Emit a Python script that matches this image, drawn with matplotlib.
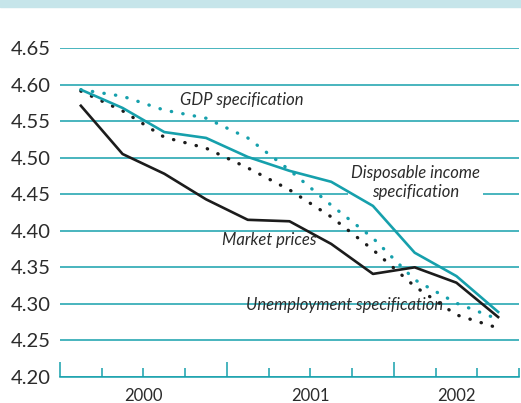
import numpy as np
import matplotlib
matplotlib.use("Agg")
import matplotlib.pyplot as plt
from matplotlib.patches import Rectangle

plt.rcParams['font.family'] = ['Lato', 'DejaVu Sans']

# quarterly estimates, 2000 Q1 .. 2002 Q3
quarters = ['2000Q1', '2000Q2', '2000Q3', '2000Q4', '2001Q1', '2001Q2',
            '2001Q3', '2001Q4', '2002Q1', '2002Q2', '2002Q3']
market_prices = [4.571, 4.505, 4.478, 4.443, 4.415, 4.413, 4.382, 4.341, 4.350, 4.329, 4.282]
disposable_income = [4.593, 4.568, 4.535, 4.527, 4.501, 4.482, 4.467, 4.434, 4.370, 4.338, 4.289]
gdp_spec = [4.593, 4.584, 4.565, 4.554, 4.527, 4.483, 4.435, 4.390, 4.333, 4.301, 4.279]
unemployment_spec = [4.591, 4.564, 4.528, 4.513, 4.486, 4.456, 4.419, 4.374, 4.324, 4.285, 4.267]
years = ['2000', '2001', '2002']

teal = '#16a0ac'
black = '#1c1c1c'
text_col = '#2b2b2b'

fig = plt.figure(figsize=(5.21, 4.03), dpi=100)
# light blue band on top
fig.patches.append(Rectangle((0, 1 - 7 / 403), 1, 7 / 403, transform=fig.transFigure,
                             color='#c6e5ea', zorder=0))
ax = fig.add_axes([60 / 521, 26 / 403, 459 / 521, 329 / 403])

x = np.arange(len(quarters)) + 0.5
dot = (0, (0.1, 3.4))
ax.plot(x, gdp_spec, color=teal, lw=2.4, linestyle=dot, dash_capstyle='round', zorder=3)
ax.plot(x, unemployment_spec, color=black, lw=2.4, linestyle=dot, dash_capstyle='round', zorder=3)
ax.plot(x, disposable_income, color=teal, lw=1.9, zorder=4)
ax.plot(x, market_prices, color=black, lw=1.9, zorder=4)

ax.set_xlim(0, len(quarters))
ax.set_ylim(4.20, 4.65)
ax.set_yticks(np.arange(4.20, 4.651, 0.05))
ax.set_yticklabels(['%.2f' % v for v in np.arange(4.20, 4.651, 0.05)])
ax.tick_params(axis='y', length=0, pad=7, labelsize=14.5, labelcolor=text_col)
ax.grid(axis='y', color=teal, lw=1.1)
ax.set_axisbelow(True)
for s in ['top', 'right', 'left']:
    ax.spines[s].set_visible(False)
ax.spines['bottom'].set_color(teal)
ax.spines['bottom'].set_linewidth(1.1)

# quarter ticks pointing up, year boundaries longer
ax.set_xticks([0, 4, 8])
ax.set_xticks(np.arange(0, len(quarters) + 1), minor=True)
ax.tick_params(axis='x', which='major', direction='in', length=11, width=1.1, color=teal,
               labelbottom=False)
ax.tick_params(axis='x', which='minor', direction='in', length=6.5, width=1.1, color=teal)
for yr, xc in zip(years, [2, 6, 9.5]):
    ax.text(xc, -0.032, yr, transform=ax.get_xaxis_transform(), ha='center', va='top',
            fontsize=12, color=text_col)

lab = dict(style='italic', fontsize=12, color=text_col, ha='center')
ax.text(4.35, 4.572, 'GDP specification', va='baseline', **lab)
ax.text(5.01, 4.380, 'Market prices', va='baseline', **lab)
ax.text(6.83, 4.291, 'Unemployment specification', va='baseline', **lab)
ax.text(8.52, 4.466, 'Disposable income\nspecification', va='center', linespacing=1.25,
        bbox=dict(facecolor='white', edgecolor='none', pad=2), zorder=2, **lab)

fig.savefig('out.png', dpi=100)
